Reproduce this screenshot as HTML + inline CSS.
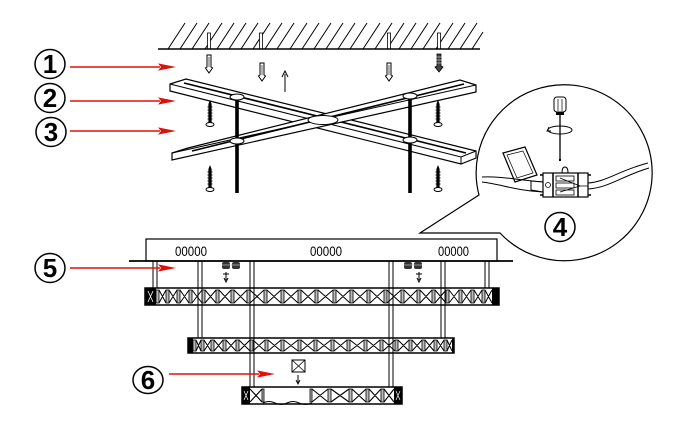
<!DOCTYPE html>
<html><head><meta charset="utf-8"><style>
html,body{margin:0;padding:0;background:#fff;overflow:hidden;}
svg{display:block;}
text{font-family:"Liberation Sans",sans-serif;}
</style></head><body>
<svg width="688" height="431" viewBox="0 0 688 431" xmlns="http://www.w3.org/2000/svg">
<defs>
<g id="sc"><path d="M0,0 L1.6,4 L1.6,23 L-1.6,23 L-1.6,4 Z" fill="#000"/><path d="M-2.6,7h5.2M-2.6,10h5.2M-2.6,13h5.2M-2.6,16h5.2M-2.6,19h5.2" stroke="#000" stroke-width="0.8"/><ellipse cx="0" cy="24.5" rx="4" ry="2" fill="#fff" stroke="#000" stroke-width="1"/></g>
<g id="pl"><path d="M-2,0 H2 V12 L3.5,13 L0,18 L-3.5,13 L-2,12 Z" fill="#fff" stroke="#000" stroke-width="1"/><path d="M0,2V12" stroke="#000" stroke-width="0.6"/></g>
<g id="ar"><path d="M-88,0H2" stroke="#e0100c" stroke-width="1.4"/><polygon points="0,-3.6 18,0 0,3.6 3,0" fill="#e0100c"/></g>
</defs>
<rect width="688" height="431" fill="#fff"/>

<!-- ceiling -->
<path d="M168,49l17,-26M180,49l17,-26M192,49l17,-26M205,49l17,-26M217,49l17,-26M229,49l17,-26M241,49l17,-26M253,49l17,-26M265,49l17,-26M277,49l17,-26M290,49l17,-26M302,49l17,-26M314,49l17,-26M326,49l17,-26M338,49l17,-26M350,49l17,-26M363,49l17,-26M375,49l17,-26M387,49l17,-26M399,49l17,-26M411,49l17,-26M423,49l17,-26M436,49l17,-26M448,49l17,-26M460,49l17,-26M472,49l11,-17" stroke="#000" stroke-width="1"/>
<g fill="#fff" stroke="#000" stroke-width="0.8">
<rect x="207.5" y="33" width="3" height="16"/><rect x="259.5" y="33" width="3" height="16"/><rect x="387.5" y="33" width="3" height="16"/><rect x="437.5" y="33" width="3" height="16"/>
</g>
<path d="M158,49H480" stroke="#000" stroke-width="1.4"/>

<use href="#pl" x="209" y="55"/>
<use href="#pl" x="262" y="63"/>
<use href="#pl" x="389" y="63"/>
<path d="M437,54H441V66L443,67L439,72L435,67L437,66Z" fill="#444" stroke="#000" stroke-width="0.8"/>
<path d="M436,57h6M436,60h6M436,63h6" stroke="#fff" stroke-width="0.6"/>
<path d="M285,92V74" stroke="#000" stroke-width="1"/><path d="M282,77L285,71L288,77" fill="none" stroke="#000" stroke-width="1"/>

<!-- bar A -->
<path d="M170,84 L186,79 L476,151 L476,158 L461,164 L170,91 Z" fill="#fff" stroke="#000" stroke-width="1.2"/>
<path d="M170,84 L461,157 L476,151 M461,157 V164" fill="none" stroke="#000" stroke-width="1"/>
<path d="M184,83 L466,153" stroke="#000" stroke-width="1.6"/>
<!-- bar B -->
<path d="M172,153 L188,148 L460,80 L476,85 L476,92 L172,160 Z" fill="#fff" stroke="#000" stroke-width="1.2"/>
<path d="M172,153 L476,85" fill="none" stroke="#000" stroke-width="1"/>
<path d="M192,151 L464,84" stroke="#000" stroke-width="1.6"/>
<ellipse cx="323" cy="120" rx="15" ry="4.5" fill="#fff" stroke="#000" stroke-width="1"/>

<!-- rods -->
<path d="M237,98V193M410,97V193" stroke="#000" stroke-width="3.6"/>
<g fill="#fff" stroke="#000" stroke-width="1">
<ellipse cx="237" cy="97" rx="7" ry="3"/><ellipse cx="237" cy="141" rx="7" ry="3"/>
<ellipse cx="410" cy="96" rx="7" ry="3"/><ellipse cx="410" cy="140" rx="7" ry="3"/>
</g>
<use href="#sc" x="210" y="100"/>
<use href="#sc" x="210" y="165"/>
<use href="#sc" x="438" y="100"/>
<use href="#sc" x="438" y="165"/>

<!-- inset circle -->
<path d="M420,233 L479,195 A88,88 0 1,1 500,233 Z" fill="#fff" stroke="#000" stroke-width="1.2"/>
<!-- screwdriver -->
<rect x="554" y="97" width="12" height="15" rx="3" fill="#fff" stroke="#000" stroke-width="1"/>
<path d="M558,99V111M562,99V111" stroke="#000" stroke-width="0.7"/>
<rect x="556" y="112" width="8" height="3" fill="#000"/>
<path d="M560,115V159" stroke="#000" stroke-width="1.3"/>
<path d="M559,159h2v2h-2z" fill="#000"/>
<ellipse cx="560" cy="130" rx="12" ry="4" fill="none" stroke="#000" stroke-width="1"/>
<path d="M549,127 L547,131 L551,131" fill="none" stroke="#000" stroke-width="0.9"/>
<!-- lid -->
<polygon points="503,153 525,147 537,175 515,182" fill="#fff" stroke="#000" stroke-width="1.2"/>
<polygon points="507,155 523,151 533,173 517,178" fill="none" stroke="#000" stroke-width="0.7"/>
<!-- wires -->
<path d="M482,177 C500,176 518,180 543,182" fill="none" stroke="#000" stroke-width="1"/>
<path d="M482,182 C500,184 518,191 543,192" fill="none" stroke="#000" stroke-width="1"/>
<path d="M531,181 L543,182 L543,192 L531,190 Z" fill="#fff" stroke="#000" stroke-width="1"/>
<path d="M588,183 C606,182 620,170 648,163" fill="none" stroke="#000" stroke-width="1"/>
<path d="M588,189 C608,188 622,176 649,168" fill="none" stroke="#000" stroke-width="1"/>
<!-- terminal block -->
<path d="M562,173 Q562,167 565,167 Q568,167 568,173 Z" fill="#fff" stroke="#000" stroke-width="1"/>
<rect x="543" y="173" width="45" height="24" fill="#fff" stroke="#000" stroke-width="1.2"/>
<path d="M553,173V197M578,173V197" stroke="#000" stroke-width="1.5"/>
<g fill="#fff" stroke="#000" stroke-width="0.8">
<rect x="556" y="176" width="18" height="5"/><rect x="556" y="183" width="18" height="5"/><rect x="556" y="190" width="18" height="5"/>
<circle cx="548" cy="185" r="2.5"/>
</g>
<path d="M560,178 L580,186 M560,192 L580,186 M580,186H588" stroke="#000" stroke-width="0.8"/>
<path d="M540,175h3M540,195h3M588,175h3M588,195h3" stroke="#000" stroke-width="1.5"/>
<!-- label 4 -->
<ellipse cx="560" cy="227" rx="15" ry="14.5" fill="#fff" stroke="#000" stroke-width="1.5"/>
<text x="560" y="236" font-size="26" font-weight="bold" text-anchor="middle">4</text>

<!-- canopy -->
<rect x="146" y="239" width="351" height="22" fill="#fff" stroke="#000" stroke-width="1.2"/>
<path d="M129,261H513" stroke="#000" stroke-width="1.7"/>
<text x="175" y="256" font-size="13.5" textLength="32" lengthAdjust="spacingAndGlyphs">00000</text>
<text x="310" y="256" font-size="13.5" textLength="32" lengthAdjust="spacingAndGlyphs">00000</text>
<text x="438" y="256" font-size="13.5" textLength="31" lengthAdjust="spacingAndGlyphs">00000</text>
<!-- connectors -->
<g fill="#333"><rect x="222" y="262" width="8" height="7" rx="2"/><rect x="232" y="262" width="8" height="7" rx="2"/><rect x="404" y="262" width="8" height="7" rx="2"/><rect x="414" y="262" width="8" height="7" rx="2"/></g>
<path d="M222,265h18M404,265h18" stroke="#bbb" stroke-width="0.8"/>
<path d="M226,272V280M223,274h6M419,272V280M416,274h6" stroke="#000" stroke-width="1"/>
<path d="M224,278L226,282L228,278M417,278L419,282L421,278" fill="none" stroke="#000" stroke-width="1"/>

<!-- ring 1 -->
<rect x="145" y="288" width="354" height="17" fill="#fff" stroke="#000" stroke-width="1.5"/>
<path d="M159,290L166,303M159,303L166,290M169,290L177,303M169,303L177,290M180,290L189,303M180,303L189,290M192,290L202,303M192,303L202,290M205,290L216,303M205,303L216,290M219,290L231,303M219,303L231,290M234,290L247,303M234,303L247,290M250,290L264,303M250,303L264,290M267,290L281,303M267,303L281,290M284,290L298,303M284,303L298,290M301,290L315,303M301,303L315,290M318,290L333,303M318,303L333,290M336,290L350,303M336,303L350,290M353,290L367,303M353,303L367,290M370,290L384,303M370,303L384,290M387,290L401,303M387,303L401,290M404,290L417,303M404,303L417,290M420,290L432,303M420,303L432,290M435,290L446,303M435,303L446,290M449,290L459,303M449,303L459,290M462,290L471,303M462,303L471,290M474,290L482,303M474,303L482,290M485,290L492,303M485,303L492,290" stroke="#000" stroke-width="1"/>
<g fill="#bbb" stroke="#000" stroke-width="0.8">
<rect x="156" y="290" width="3" height="13"/><rect x="166" y="290" width="3" height="13"/><rect x="177" y="290" width="3" height="13"/><rect x="189" y="290" width="3" height="13"/><rect x="202" y="290" width="3" height="13"/><rect x="216" y="290" width="3" height="13"/><rect x="231" y="290" width="3" height="13"/><rect x="247" y="290" width="3" height="13"/><rect x="264" y="290" width="3" height="13"/><rect x="281" y="290" width="3" height="13"/><rect x="298" y="290" width="3" height="13"/><rect x="315" y="290" width="3" height="13"/><rect x="333" y="290" width="3" height="13"/><rect x="350" y="290" width="3" height="13"/><rect x="367" y="290" width="3" height="13"/><rect x="384" y="290" width="3" height="13"/><rect x="401" y="290" width="3" height="13"/><rect x="417" y="290" width="3" height="13"/><rect x="432" y="290" width="3" height="13"/><rect x="446" y="290" width="3" height="13"/><rect x="459" y="290" width="3" height="13"/><rect x="471" y="290" width="3" height="13"/><rect x="482" y="290" width="3" height="13"/>
</g>
<rect x="145" y="288" width="11" height="17" fill="#000"/>
<path d="M148,291L153,302M148,302L153,291" stroke="#fff" stroke-width="0.8"/>
<rect x="492" y="288" width="7" height="17" fill="#000"/>

<!-- ring 2 -->
<rect x="188" y="338" width="266" height="15" fill="#fff" stroke="#000" stroke-width="1.5"/>
<path d="M196,340L201,351M196,351L201,340M204,340L211,351M204,351L211,340M214,340L223,351M214,351L223,340M226,340L236,351M226,351L236,340M239,340L250,351M239,351L250,340M253,340L265,351M253,351L265,340M268,340L281,351M268,351L281,340M284,340L298,351M284,351L298,340M301,340L314,351M301,351L314,340M317,340L331,351M317,351L331,340M334,340L347,351M334,351L347,340M350,340L364,351M350,351L364,340M367,340L380,351M367,351L380,340M383,340L395,351M383,351L395,340M398,340L409,351M398,351L409,340M412,340L422,351M412,351L422,340M425,340L434,351M425,351L434,340M437,340L444,351M437,351L444,340M447,340L452,351M447,351L452,340" stroke="#000" stroke-width="1"/>
<g fill="#bbb" stroke="#000" stroke-width="0.8">
<rect x="193" y="340" width="3" height="11"/><rect x="201" y="340" width="3" height="11"/><rect x="211" y="340" width="3" height="11"/><rect x="223" y="340" width="3" height="11"/><rect x="236" y="340" width="3" height="11"/><rect x="250" y="340" width="3" height="11"/><rect x="265" y="340" width="3" height="11"/><rect x="281" y="340" width="3" height="11"/><rect x="298" y="340" width="3" height="11"/><rect x="314" y="340" width="3" height="11"/><rect x="331" y="340" width="3" height="11"/><rect x="347" y="340" width="3" height="11"/><rect x="364" y="340" width="3" height="11"/><rect x="380" y="340" width="3" height="11"/><rect x="395" y="340" width="3" height="11"/><rect x="409" y="340" width="3" height="11"/><rect x="422" y="340" width="3" height="11"/><rect x="434" y="340" width="3" height="11"/><rect x="444" y="340" width="3" height="11"/>
</g>
<rect x="188" y="338" width="5" height="15" fill="#000"/>
<rect x="452" y="338" width="2" height="15" fill="#000"/>

<!-- ring 3 -->
<rect x="242" y="387" width="160" height="17" fill="#fff" stroke="#000" stroke-width="1.5"/>
<path d="M263,403 q6,-3 12,0 q6,3 12,0 q6,-3 12,0 q6,3 13,0" fill="none" stroke="#000" stroke-width="1"/>
<rect x="263" y="390" width="49" height="11" fill="#fff"/>
<path d="M250,389L262,402M250,402L262,389M312,389L328,402M312,402L328,389M331,389L349,402M331,402L349,389M352,389L366,402M352,402L366,389M369,389L381,402M369,402L381,389M384,389L394,402M384,402L394,389" stroke="#000" stroke-width="1.1"/>
<g fill="#bbb" stroke="#000" stroke-width="0.8">
<rect x="262" y="389" width="2" height="13"/><rect x="310" y="389" width="2" height="13"/><rect x="328" y="389" width="3" height="13"/><rect x="349" y="389" width="3" height="13"/><rect x="366" y="389" width="3" height="13"/><rect x="381" y="389" width="3" height="13"/>
</g>
<rect x="242" y="387" width="8" height="17" fill="#000"/>
<rect x="394" y="387" width="8" height="17" fill="#000"/>
<path d="M244,391L248,400M244,400L248,391M396,391L400,400M396,400L400,391" stroke="#fff" stroke-width="0.7"/>

<!-- hanging rods -->
<path d="M153,261V288M157,261V288M198,261V338M202,261V338M250,261V387M254,261V387M389,261V387M393,261V387M441,261V338M445,261V338M485,261V288M489,261V288" stroke="#000" stroke-width="1"/>

<!-- small box 6 -->
<rect x="292" y="360" width="13" height="12" fill="#fff" stroke="#000" stroke-width="1"/>
<path d="M292,360L305,372M292,372L305,360" stroke="#000" stroke-width="0.8"/>
<path d="M298,375V383" stroke="#000" stroke-width="1"/>
<path d="M296,380L298,384L300,380" fill="none" stroke="#000" stroke-width="0.9"/>

<!-- red arrows -->
<use href="#ar" x="158" y="67"/>
<use href="#ar" x="158" y="101"/>
<use href="#ar" x="158" y="131"/>
<use href="#ar" x="158" y="268"/>
<use href="#ar" x="257" y="374"/>

<!-- labels -->
<g fill="#fff" stroke="#000" stroke-width="1.5">
<ellipse cx="50" cy="64" rx="15" ry="14.5"/>
<ellipse cx="50" cy="98" rx="15" ry="14.5"/>
<ellipse cx="51" cy="132" rx="15" ry="14.5"/>
<ellipse cx="50" cy="268" rx="15" ry="14.5"/>
<ellipse cx="148" cy="380" rx="15" ry="13.5"/>
</g>
<g font-size="26" font-weight="bold" text-anchor="middle">
<text x="50" y="73">1</text>
<text x="50" y="107">2</text>
<text x="51" y="141">3</text>
<text x="50" y="277">5</text>
<text x="148" y="389">6</text>
</g>
</svg>
</body></html>
